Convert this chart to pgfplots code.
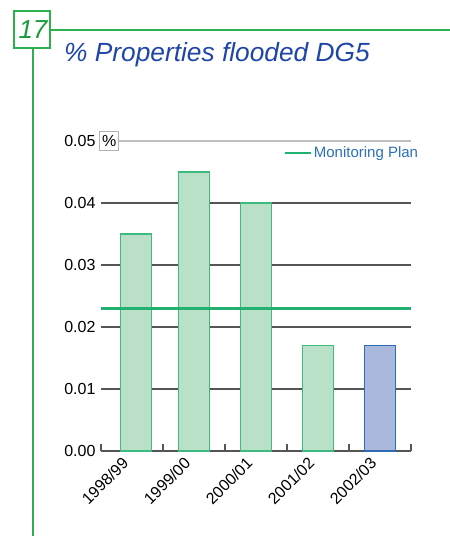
\documentclass[border=0pt]{standalone}
\usepackage{pgfplots}
\pgfplotsset{compat=1.18}
\usepackage{fontspec}
\setmainfont{Liberation Sans}
\definecolor{barfill}{HTML}{BBE0C8}
\definecolor{barline}{HTML}{3DBB7F}
\definecolor{bluefill}{HTML}{AAB8DC}
\definecolor{blueline}{HTML}{2F6BB2}
\definecolor{planline}{HTML}{20B070}
\definecolor{titleblue}{HTML}{1F45A8}
\definecolor{legblue}{HTML}{2C70B8}
\definecolor{framegreen}{HTML}{2DB050}
\definecolor{numgreen}{HTML}{1A9A3A}
\definecolor{gridgray}{HTML}{555555}
\begin{document}
\begin{tikzpicture}
\useasboundingbox (0pt,0pt) rectangle (450pt,-536pt);
% header decoration
\draw[framegreen, line width=1.2pt] (14pt,-11pt) rectangle (50pt,-48pt);
\node[numgreen, font=\fontsize{26}{26}\selectfont\itshape] at (33pt,-30pt) {17};
\draw[framegreen, line width=1.2pt] (50pt,-30pt) -- (450pt,-30pt);
\draw[framegreen, line width=1.2pt] (33pt,-48pt) -- (33pt,-536pt);
\node[titleblue, anchor=west, font=\fontsize{26.3}{26.3}\selectfont\itshape, inner sep=0pt] at (64pt,-55pt) {\% Properties flooded DG5};
\begin{axis}[
  at={(101pt,-451pt)}, anchor=south west,
  scale only axis, width=310pt, height=310pt,
  xmin=-0.5, xmax=4.5, ymin=0, ymax=0.05,
  scaled y ticks=false,
  axis y line*=left,
  y axis line style={draw=none},
  axis x line*=bottom,
  x axis line style={gridgray, line width=1.2pt, -},
  xtick={0,1,2,3,4},
  xticklabels={1998/99,1999/00,2000/01,2001/02,2002/03},
  xticklabel style={xshift=-4pt, yshift=-7pt, rotate=45, anchor=east, font=\fontsize{16}{16}\selectfont},
  major x tick style={draw=none},
  major y tick style={draw=none},
  minor xtick={-0.5,0.5,1.5,2.5,3.5,4.5},
  minor x tick style={gridgray, line width=1.2pt},
  minor tick length=7pt,
  tick align=inside,
  ytick={0,0.01,0.02,0.03,0.04},
  yticklabel style={font=\fontsize{16}{16}\selectfont},
  yticklabels={0.00,0.01,0.02,0.03,0.04},
  ymajorgrids,
  grid style={gridgray, line width=1.2pt},
  extra y ticks={0.05},
  extra y tick labels={0.05},
  extra y tick style={grid style={gray!50, line width=1.2pt}, tick style={draw=none}},
  y tick label style={xshift=-2pt},
  clip=false,
  legend style={at={(1.03,0.961)}, anchor=east, draw=none, fill=none,
    font=\fontsize{15}{15}\selectfont\color{legblue}, inner sep=0pt},
  legend image code/.code={\draw[planline, line width=2.2pt] (-12pt,0pt) -- (14pt,0pt);},
]
\addplot[ybar, bar width=31pt, bar shift=0pt, fill=barfill, draw=barline, line width=1.2pt, forget plot]
  coordinates {(0.06,0.035) (1,0.045) (2,0.040) (3,0.017)};
\addplot[ybar, bar width=31pt, bar shift=0pt, fill=bluefill, draw=blueline, line width=1.2pt, forget plot]
  coordinates {(4,0.017)};
\addplot[sharp plot, planline, line width=2.2pt, mark=none]
  coordinates {(-0.5,0.023) (4.5,0.023)};
\addlegendentry{Monitoring Plan}
\node[draw=gray!60, fill=white, line width=1pt, inner xsep=2.5pt, inner ysep=3.5pt, anchor=west, font=\fontsize{16}{16}\selectfont] at (axis cs:-0.53,0.05) {\%};
\end{axis}
\end{tikzpicture}
\end{document}
